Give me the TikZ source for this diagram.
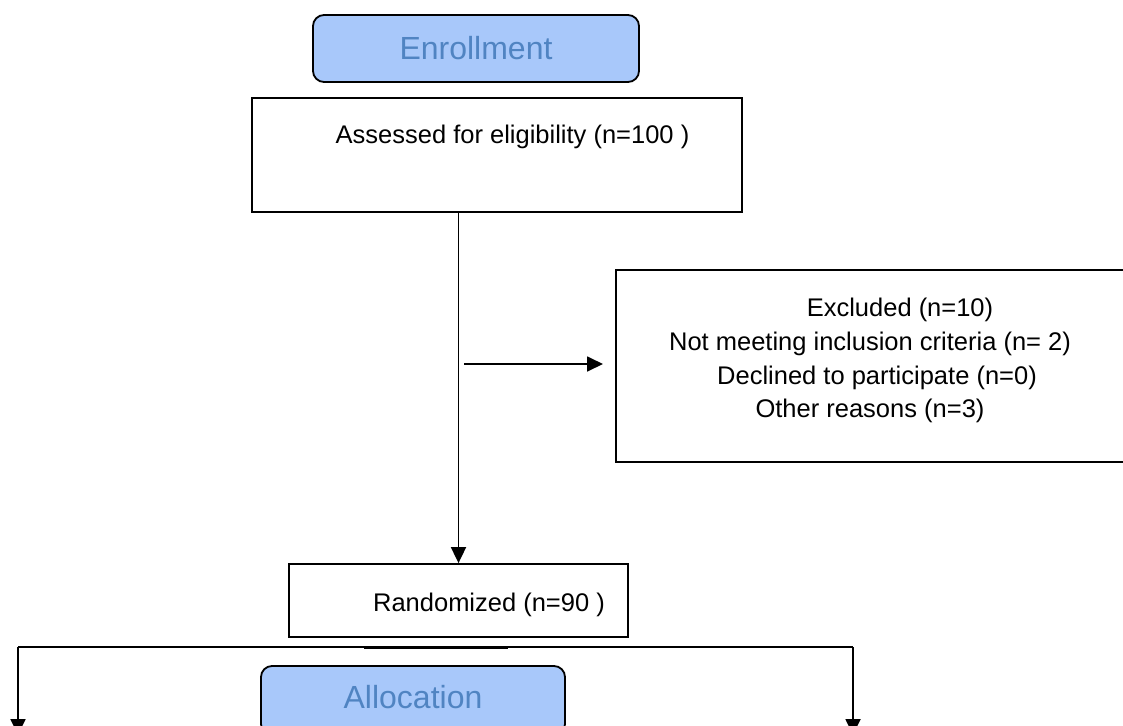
\documentclass[tikz,border=0pt]{standalone}
\usepackage{fontspec}
\setmainfont{Liberation Sans}
\usepackage{tikz}
\usetikzlibrary{arrows.meta}
\definecolor{phasefill}{RGB}{168,200,250}
\definecolor{phasetext}{RGB}{80,132,194}
\tikzstyle{phasebox} = [draw=black, line width=1.8pt, fill=phasefill, rounded corners=11pt, inner sep=0pt, text=phasetext, font=\fontsize{32}{38}\selectfont]
\tikzstyle{stagebox} = [draw=black, line width=1.8pt, fill=white, inner sep=0pt]
\tikzstyle{stagetext} = [inner sep=0pt, anchor=base, font=\fontsize{25.5}{30}\selectfont]
\tikzstyle{edge} = [black, line width=1.8pt]
\tikzstyle{arrowedge} = [edge, -{Triangle[length=16pt,width=15pt]}]

\begin{document}
\begin{tikzpicture}[x=1pt, y=-1pt]

\clip (0,0) rectangle (1123,725);
\fill[white] (0,0) rectangle (1123,725);

\node[phasebox, minimum width=326pt, minimum height=67pt] (enroll) at (476,48.5) {Enrollment};
\node[stagebox, minimum width=490pt, minimum height=114pt] (assess) at (497,155) {};
\node[stagetext] (assesstext) at (512.5,143) {Assessed for eligibility (n=100 )};

\node[stagebox, minimum width=544pt, minimum height=192pt] (excl) at (888,366) {};
\node[stagetext] (excl1) at (900,316) {Excluded (n=10)};
\node[stagetext] (excl2) at (870,350) {Not meeting inclusion criteria (n= 2)};
\node[stagetext] (excl3) at (877,384) {Declined to participate (n=0)};
\node[stagetext] (excl4) at (870,417) {Other reasons (n=3)};

\node[stagebox, minimum width=339pt, minimum height=73pt] (rand) at (458.5,600.5) {};
\node[stagetext] (randtext) at (489,611) {Randomized (n=90 )};

\node[phasebox, minimum width=304pt, minimum height=69pt] (alloc) at (413,700.5) {};
\node[stagetext, text=phasetext, font=\fontsize{32}{38}\selectfont] (alloctext) at (413,708) {Allocation};

\coordinate (exclstart) at (464,364);
\coordinate (exclend) at (603,364);
\coordinate (splitL) at (18,647);
\coordinate (splitR) at (853,647);
\coordinate (armL) at (18,735);
\coordinate (armR) at (853,735);

\draw[arrowedge] (rand.north |- assess.south) to (rand.north);
\draw[arrowedge] (exclstart) to (exclend);
\draw[edge] (splitL) to (splitR);
\draw[edge] (364,648.5) to (508,648.5);
\draw[arrowedge] (splitL) to (armL);
\draw[arrowedge] (splitR) to (armR);

\end{tikzpicture}
\end{document}
